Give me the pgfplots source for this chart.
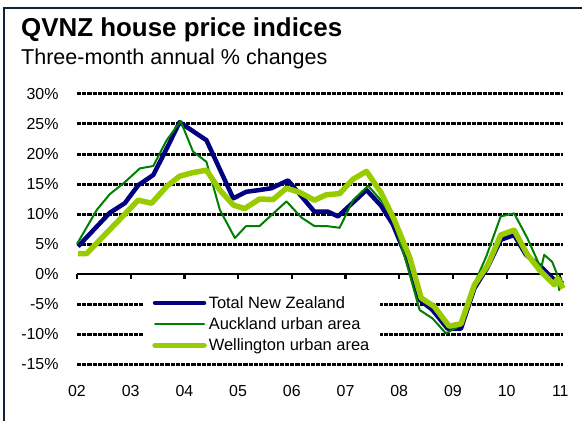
\documentclass[border=0pt]{standalone}
\usepackage{fontspec}
\setmainfont{Liberation Sans}
\usepackage{pgfplots}
\pgfplotsset{compat=1.18}
\definecolor{navyc}{RGB}{0,0,128}
\definecolor{greenc}{RGB}{0,128,0}
\definecolor{limec}{RGB}{153,204,0}
\definecolor{framec}{RGB}{16,34,56}
\begin{document}
\begin{tikzpicture}[x=1bp,y=1bp]
\useasboundingbox (0,0) rectangle (582,421);
\draw[framec, line width=2.4bp] (4,0) -- (4,413) -- (582,413);
\node[anchor=base west, font=\fontsize{26}{30}\selectfont\bfseries, inner sep=0] at (21,385) {QVNZ house price indices};
\node[anchor=base west, font=\fontsize{21.6}{25}\selectfont, inner sep=0] at (21,357) {Three-month annual \% changes};
\begin{axis}[
  at={(77bp,57bp)}, anchor=south west,
  scale only axis, width=486bp, height=270bp,
  xmin=2002, xmax=2011.05, ymin=-15, ymax=30,
  clip=false,
  axis line style={draw=none},
  tick style={draw=none}, major tick length=0,
  xtick={2002,2003,2004,2005,2006,2007,2008,2009,2010,2011},
  xticklabels={02,03,04,05,06,07,08,09,10,11},
  ytick={-15,-10,-5,0,5,10,15,20,25,30},
  yticklabels={-15\%,-10\%,-5\%,0\%,5\%,10\%,15\%,20\%,25\%,30\%},
  ticklabel style={font=\fontsize{16}{18}\selectfont},
  xticklabel style={yshift=-18bp},
  yticklabel style={xshift=-15bp},
  legend style={at={(0.136,0.27)}, anchor=north west, draw=none, fill=white,
    font=\fontsize{16.5}{18}\selectfont, row sep=3.8bp, inner xsep=9bp, inner ysep=3bp},
  legend cell align=left,
  legend image code/.code={\draw[#1, line cap=round] (0bp,0bp) -- (49bp,0bp);},
]
\pgfplotsinvokeforeach{-15,-10,-5,5,10,15,20,25,30}{
  \draw[black, line width=3bp, dash pattern=on 4.2bp off 1bp] (axis cs:2002,#1) -- (axis cs:2011.05,#1);
}
\addplot[black, line width=2.8bp, forget plot] coordinates {(2002,0) (2011.05,0)};
\pgfplotsinvokeforeach{2002,2003,2004,2005,2006,2007,2008,2009,2010,2011}{
  \draw[black, line width=2.2bp] (axis cs:#1,0) -- (axis cs:#1,-0.9);
}
\addplot[navyc, line width=4.5bp, line join=round] coordinates {
(2002.02,4.6) (2002.61,10.2) (2002.89,11.8) (2003.14,14.8) (2003.42,16.5) (2003.67,20.9) (2003.91,25.3) (2004.41,22.3) (2004.91,12.6) (2005.15,13.7) (2005.40,14.0) (2005.62,14.3) (2005.93,15.6) (2006.42,10.4) (2006.67,10.4) (2006.86,9.6) (2007.39,14.0) (2007.66,11.4) (2007.88,8.3) (2008.13,2.9) (2008.38,-4.3) (2008.62,-6.0) (2008.90,-9.1) (2009.15,-9.1) (2009.40,-2.4) (2009.65,1.2) (2009.89,5.7) (2010.14,6.5) (2010.36,3.2) (2010.64,1.2) (2010.89,-1.0) (2011.05,-1.6)
};
\addlegendentry{Total New Zealand}
\addplot[greenc, line width=2bp, line join=round] coordinates {
(2002.00,5.0) (2002.37,10.7) (2002.61,13.3) (2002.89,15.3) (2003.17,17.6) (2003.42,18.0) (2003.67,22.3) (2003.93,25.5) (2004.16,20.4) (2004.41,18.7) (2004.66,10.7) (2004.94,6.0) (2005.15,8.0) (2005.40,8.0) (2005.90,12.1) (2006.18,9.4) (2006.42,8.0) (2006.64,8.0) (2006.89,7.7) (2007.14,12.3) (2007.42,14.7) (2007.66,12.3) (2007.88,9.3) (2008.13,2.0) (2008.38,-6.0) (2008.62,-7.4) (2008.87,-9.9) (2009.15,-8.5) (2009.40,-1.6) (2009.62,2.9) (2009.89,9.6) (2010.14,10.1) (2010.39,5.9) (2010.64,0.9) (2010.70,3.2) (2010.85,2.0) (2010.93,0.2) (2010.98,-2.7) (2011.01,-0.6) (2011.05,-2.2)
};
\addlegendentry{Auckland urban area}
\addplot[limec, line width=5.5bp, line join=round] coordinates {
(2002.02,3.4) (2002.18,3.4) (2003.14,12.3) (2003.39,11.8) (2003.67,14.6) (2003.91,16.3) (2004.16,16.9) (2004.41,17.3) (2004.66,14.0) (2004.91,11.5) (2005.12,10.9) (2005.40,12.5) (2005.65,12.4) (2005.90,14.3) (2006.15,13.6) (2006.42,12.3) (2006.64,13.2) (2006.89,13.4) (2007.14,15.8) (2007.39,17.1) (2007.66,13.6) (2007.91,9.0) (2008.19,2.9) (2008.41,-4.0) (2008.65,-5.4) (2008.93,-8.7) (2009.15,-8.3) (2009.40,-1.8) (2009.65,1.5) (2009.89,6.5) (2010.14,7.3) (2010.39,3.2) (2010.61,0.7) (2010.89,-1.8) (2010.95,-0.7) (2011.05,-2.4)
};
\addlegendentry{Wellington urban area}
\end{axis}
\end{tikzpicture}
\end{document}
